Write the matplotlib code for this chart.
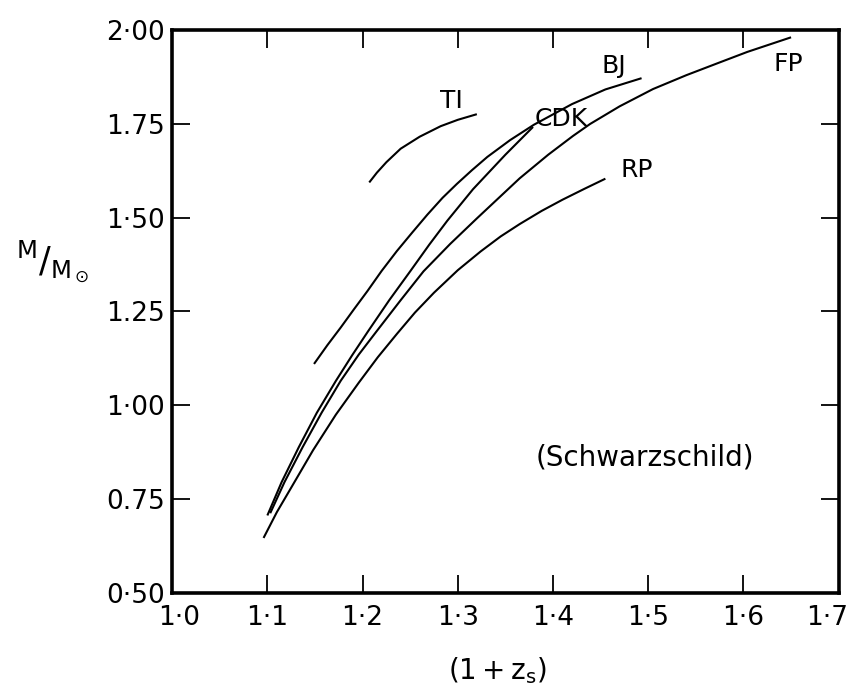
import matplotlib.pyplot as plt
import matplotlib.transforms as mtransforms

# curves: (1+z_s) against M/M_sun
ti_x = [1.207, 1.215, 1.225, 1.240, 1.260, 1.282, 1.300, 1.320]
ti_y = [1.594, 1.620, 1.648, 1.684, 1.716, 1.744, 1.761, 1.776]

bj_x = [1.149, 1.163, 1.177, 1.191, 1.205, 1.220, 1.236, 1.252, 1.268, 1.284,
        1.299, 1.315, 1.331, 1.355, 1.380, 1.420, 1.455, 1.493]
bj_y = [1.110, 1.160, 1.207, 1.256, 1.304, 1.358, 1.411, 1.460, 1.508, 1.553,
        1.590, 1.627, 1.662, 1.707, 1.748, 1.803, 1.842, 1.872]

cdk_x = [1.100, 1.115, 1.133, 1.152, 1.172, 1.189, 1.206, 1.228, 1.250, 1.270,
         1.289, 1.316, 1.350, 1.379]
cdk_y = [0.706, 0.795, 0.888, 0.980, 1.065, 1.133, 1.198, 1.280, 1.357, 1.428,
         1.492, 1.576, 1.668, 1.742]

fp_x = [1.103, 1.118, 1.137, 1.157, 1.177, 1.196, 1.215, 1.240, 1.264, 1.292,
        1.320, 1.365, 1.395, 1.421, 1.439, 1.470, 1.505, 1.540, 1.575, 1.604, 1.650]
fp_y = [0.712, 0.795, 0.888, 0.980, 1.065, 1.135, 1.198, 1.280, 1.357, 1.430,
        1.498, 1.605, 1.668, 1.718, 1.750, 1.797, 1.843, 1.880, 1.914, 1.942, 1.981]

rp_x = [1.096, 1.110, 1.125, 1.148, 1.172, 1.196, 1.216, 1.236, 1.255, 1.275,
        1.300, 1.324, 1.345, 1.365, 1.388, 1.410, 1.433, 1.455]
rp_y = [0.646, 0.715, 0.780, 0.880, 0.975, 1.060, 1.128, 1.190, 1.247, 1.300,
        1.360, 1.410, 1.450, 1.483, 1.518, 1.548, 1.577, 1.604]

curve_names = ['TI', 'BJ', 'CDK', 'FP', 'RP']
label_x = [1.293, 1.464, 1.409, 1.647, 1.488]
label_y = [1.812, 1.904, 1.764, 1.910, 1.626]

x_ticks = [1.0, 1.1, 1.2, 1.3, 1.4, 1.5, 1.6, 1.7]
x_tick_labels = ['1·0', '1·1', '1·2', '1·3', '1·4', '1·5', '1·6', '1·7']
y_ticks = [0.50, 0.75, 1.00, 1.25, 1.50, 1.75, 2.00]
y_tick_labels = ['0·50', '0.75', '1·00', '1.25', '1·50', '1.75', '2·00']

fig = plt.figure(figsize=(8.48, 6.86), dpi=100)
ax = fig.add_axes([0.203, 0.136, 0.786, 0.82])

for xs, ys in [(ti_x, ti_y), (bj_x, bj_y), (cdk_x, cdk_y), (fp_x, fp_y), (rp_x, rp_y)]:
    ax.plot(xs, ys, color='black', lw=1.5, solid_capstyle='butt', solid_joinstyle='round')

for name, lx, ly in zip(curve_names, label_x, label_y):
    ax.text(lx, ly, name, ha='center', va='center', fontsize=18)

ax.text(1.496, 0.861, '(Schwarzschild)', ha='center', va='center', fontsize=20)

ax.set_xlim(1.0, 1.7)
ax.set_ylim(0.5, 2.0)
ax.set_xticks(x_ticks)
ax.set_xticklabels(x_tick_labels, fontsize=19)
ax.set_yticks(y_ticks)
ax.set_yticklabels(y_tick_labels, fontsize=19)
ax.tick_params(direction='in', length=13, width=1.3, top=True, right=True)
ax.tick_params(axis='x', pad=9)
ax.tick_params(axis='y', pad=5)
for sp in ax.spines.values():
    sp.set_linewidth(2.6)

# nudge the end labels in a little, as in the original
xl = ax.get_xticklabels()
xl[0].set_transform(xl[0].get_transform() + mtransforms.ScaledTranslation(0.07, 0, fig.dpi_scale_trans))
xl[-1].set_transform(xl[-1].get_transform() + mtransforms.ScaledTranslation(-0.12, 0, fig.dpi_scale_trans))

fig.text(0.586, 0.022, r'$\mathregular{(1+z_s)}$', ha='center', va='center', fontsize=20)
fig.text(0.062, 0.618, r'$\mathregular{^M/_{M_\odot}}$', ha='center', va='center', fontsize=25)

fig.savefig('out.png', dpi=100)
